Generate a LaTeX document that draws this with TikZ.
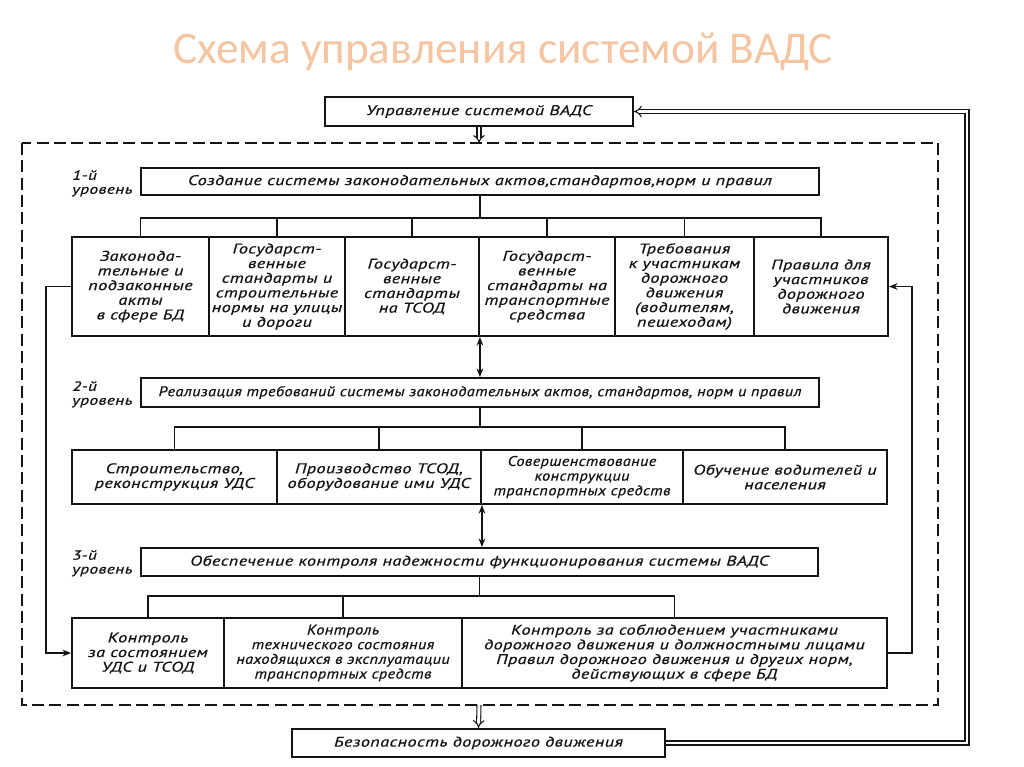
\documentclass[tikz,border=0pt]{standalone}
\usepackage{fontspec}
\setmainfont{PT Sans}
\newfontfamily\gost[FakeStretch=1.3,LetterSpace=3,FakeBold=0.6]{PT Sans}
\newfontfamily\gostn[FakeStretch=1.16,LetterSpace=3,FakeBold=0.6]{PT Sans}
\newfontfamily\titlefont{Carlito}
\usetikzlibrary{arrows.meta}
\definecolor{titlecol}{RGB}{245,197,162}
\definecolor{ink}{RGB}{20,20,20}
\newcommand\mkbox[7][box]{\node[#1, minimum width={((#5)-(#3))*0.75pt}, minimum height={((#6)-(#4))*0.75pt}] (#2) at ({((#3)+(#5))/2},{((#4)+(#6))/2}) {#7};}
\begin{document}
\begin{tikzpicture}[x=0.75pt,y=-0.75pt,
  box/.style={draw=ink, line width=1.4pt, inner sep=1pt, align=center, text=ink,
     font=\gost\itshape\fontsize{10.5}{11}\selectfont},
  boxn/.style={box, font=\gostn\itshape\fontsize{10.5}{11}\selectfont},
  lbl/.style={align=left, inner sep=0pt, text=ink, font=\gost\itshape\fontsize{10}{10.5}\selectfont},
  conn/.style={draw=ink, line width=1.4pt},
  fb/.style={draw=ink, line width=1.4pt, -{Stealth[length=6.5pt,width=5pt]}},
  bidir/.style={draw=ink, line width=1.4pt, {Stealth[length=6.5pt,width=5pt]}-{Stealth[length=6.5pt,width=5pt]}},
  dbl/.style={draw=ink, double=white, double distance=2.2pt, line width=0.8pt, -{Implies}},
  dashbox/.style={draw=ink, line width=1.3pt, dash pattern=on 9pt off 4pt}]
\useasboundingbox (0,0) rectangle (1024,767);
\fill[white] (0,0) rectangle (1024,767);

\node[font=\titlefont\fontsize{34}{40}\selectfont, text=titlecol] (title) at (503,52) {Схема управления системой ВАДС};

% top and bottom
\mkbox{top}{325}{97}{633}{126}{Управление системой ВАДС}
\mkbox{bot}{292}{729}{665}{757}{Безопасность дорожного движения}

% dashed frame
\draw[dashbox] (22,143) rectangle (938,705);
\coordinate (dtop) at (479,143);
\coordinate (dbot) at (479,705);

% level 1
\node[lbl, anchor=north west] (l1) at (72,170) {1-й\\уровень};
\mkbox{h1}{141}{168}{819}{195}{Создание системы законодательных актов,стандартов,норм и правил}
\mkbox{b11}{72}{237}{209}{336}{Законода-\\тельные и\\подзаконные\\акты\\в сфере БД}
\mkbox{b12}{209}{237}{345}{336}{Государст-\\венные\\стандарты и\\строительные\\нормы на улицы\\и дороги}
\mkbox{b13}{345}{237}{479}{336}{Государст-\\венные\\стандарты\\на ТСОД}
\mkbox{b14}{479}{237}{615}{336}{Государст-\\венные\\стандарты на\\транспортные\\средства}
\mkbox{b15}{615}{237}{754}{336}{Требования\\к участникам\\дорожного\\движения\\(водителям,\\пешеходам)}
\mkbox{b16}{754}{237}{888}{336}{Правила для\\участников\\дорожного\\движения}
\coordinate (bus1) at (479,218);
\draw[conn] (h1.south) -- (h1.south |- bus1);
\draw[conn] (b11.north) -- (b11.north |- bus1) -- (b16.north |- bus1) -- (b16.north);
\foreach \n in {b12,b13,b14,b15} \draw[conn] (\n.north) -- (\n.north |- bus1);

% level 2
\node[lbl, anchor=north west] (l2) at (72,381) {2-й\\уровень};
\mkbox[boxn]{h2}{141}{378}{819}{407}{Реализация требований системы законодательных актов, стандартов, норм и правил}
\mkbox{b21}{72}{450}{277}{504}{Строительство,\\реконструкция УДС}
\mkbox{b22}{277}{450}{481}{504}{Производство ТСОД,\\оборудование ими УДС}
\mkbox[boxn]{b23}{481}{450}{683}{504}{Совершенствование\\конструкции\\транспортных средств}
\mkbox{b24}{683}{450}{887}{504}{Обучение водителей и\\населения}
\coordinate (bus2) at (479,427);
\draw[conn] (h2.south) -- (h2.south |- bus2);
\draw[conn] (b21.north) -- (b21.north |- bus2) -- (b24.north |- bus2) -- (b24.north);
\foreach \n in {b22,b23} \draw[conn] (\n.north) -- (\n.north |- bus2);

% level 3
\node[lbl, anchor=north west] (l3) at (72,550) {3-й\\уровень};
\mkbox{h3}{141}{548}{818}{576}{Обеспечение контроля надежности функционирования системы ВАДС}
\mkbox{c1}{72}{618}{224}{688}{Контроль\\за состоянием\\УДС и ТСОД}
\mkbox[boxn]{c2}{224}{618}{462}{688}{Контроль\\технического состояния\\находящихся в эксплуатации\\транспортных средств}
\mkbox{c3}{462}{618}{887}{688}{Контроль за соблюдением участниками\\дорожного движения и должностными лицами\\Правил дорожного движения и других норм,\\действующих в сфере БД}
\coordinate (bus3) at (479,596);
\draw[conn] (h3.south) -- (h3.south |- bus3);
\draw[conn] (c1.north) -- (c1.north |- bus3) -- (c3.north |- bus3) -- (c3.north);
\draw[conn] (c2.north) -- (c2.north |- bus3);

% links between levels
\draw[bidir] (b13.south east) -- (b13.south east |- h2.north);
\draw[bidir] (b22.south east) -- (b22.south east |- h3.north);

% feedback lines
\coordinate (lf) at (46,0);
\coordinate (rf) at (912,0);
\draw[fb] (b11.west) -- (b11.west -| lf) -- (c1.west -| lf) -- (c1.west);
\draw[fb] (c3.east) -- (c3.east -| rf) -- (b16.east -| rf) -- (b16.east);

% hollow arrows
\draw[dbl] (top.south) -- (dtop);
\draw[dbl] (dbot) -- (bot.north);
\coordinate (dl) at (967,0);
\draw[dbl] (bot.east) -- (bot.east -| dl) -- (top.east -| dl) -- (top.east);
\end{tikzpicture}
\end{document}
